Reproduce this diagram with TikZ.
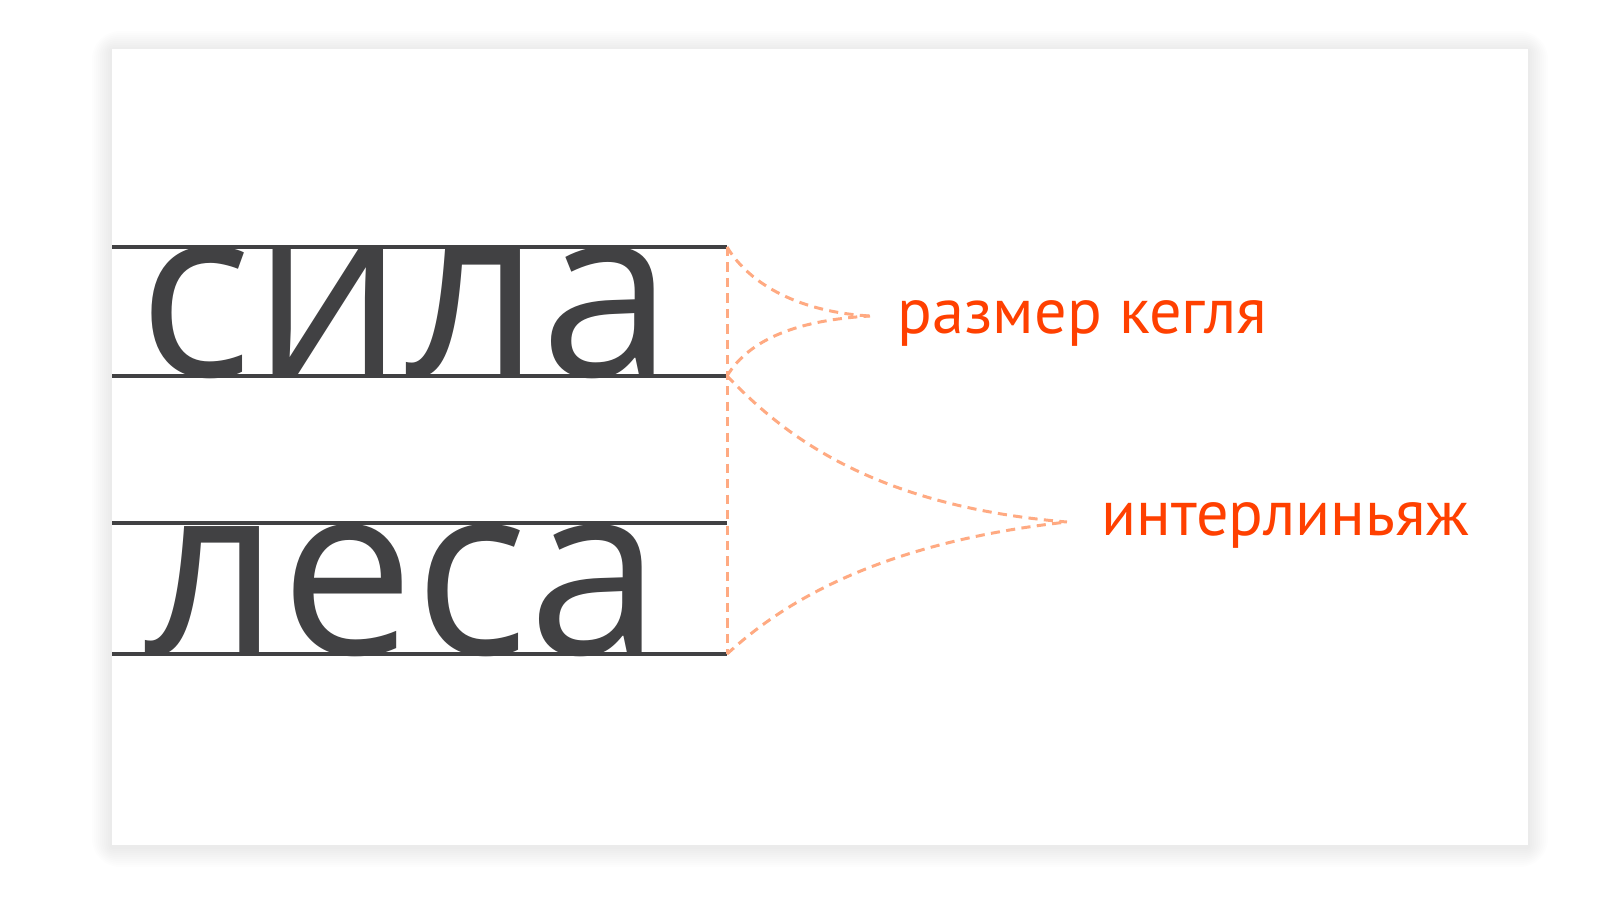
\documentclass[tikz,border=0pt]{standalone}
\usepackage{fontspec}
\setmainfont{Open Sans}
\newfontfamily\labelfont{PT Sans}
\usetikzlibrary{positioning}
\definecolor{ink}{HTML}{414143}
\definecolor{accent}{HTML}{FF4000}
\definecolor{guide}{HTML}{FFAA82}
\tikzset{
  word/.style={
    inner sep=0pt, anchor=base west, text=ink,
    font=\fontsize{68}{68}\selectfont
  },
  lbl/.style={
    inner sep=0pt, anchor=base west, text=accent,
    font=\labelfont\fontsize{18.3}{18.3}\selectfont
  },
  rule/.style={draw=ink, line width=0.9pt},
  guideline/.style={draw=guide, line width=0.85pt, dash pattern=on 2.6pt off 1.8pt}
}

\begin{document}
\begin{tikzpicture}[x=0.01cm, y=-0.01cm]
  \useasboundingbox (0,0) rectangle (1600,900);

  % ---- Card with soft shadow -----------------------------------------------
  \foreach \s in {1,...,10} {
    \fill[black, opacity=0.008, rounded corners=0.8*\s]
      (112-2*\s, 49-2*\s+2) rectangle (1528+2*\s, 845+2*\s+2);
  }
  \fill[white] (112,49) rectangle (1528,845);

  % ---- Guide points --------------------------------------------------------
  \coordinate (l1) at (112,247);
  \coordinate (l2) at (112,376);
  \coordinate (l3) at (112,523);
  \coordinate (l4) at (112,654);
  \coordinate (r1) at (727,247);
  \coordinate (r2) at (727,376);
  \coordinate (r3) at (727,523);
  \coordinate (r4) at (727,654);
  \coordinate (tip1) at (870,316);
  \coordinate (tip2) at (1067,522);

  % ---- Words ---------------------------------------------------------------
  \node[word] (sila) at (138,376) {сила};
  \node[word] (lesa) at (143,654) {леса};

  % ---- Rules ---------------------------------------------------------------
  \foreach \i in {1,...,4} {
    \draw[rule] (l\i) -- (r\i);
  }

  % ---- Labels --------------------------------------------------------------
  \node[lbl] (kegl) at (897,333) {размер кегля};
  \node[lbl] (inter) at (1101,535) {интерлиньяж};

  % ---- Dashed guides -------------------------------------------------------
  \draw[guideline] (r1) -- (r4);
  \draw[guideline] (r1) .. controls (750,285) and (800,312) .. (tip1);
  \draw[guideline] (r2) .. controls (750,338) and (800,320) .. (tip1);
  \draw[guideline] (r2) .. controls (775,425) and (860,505) .. (tip2);
  \draw[guideline] (r4) .. controls (770,615) and (860,545) .. (tip2);

\end{tikzpicture}
\end{document}
